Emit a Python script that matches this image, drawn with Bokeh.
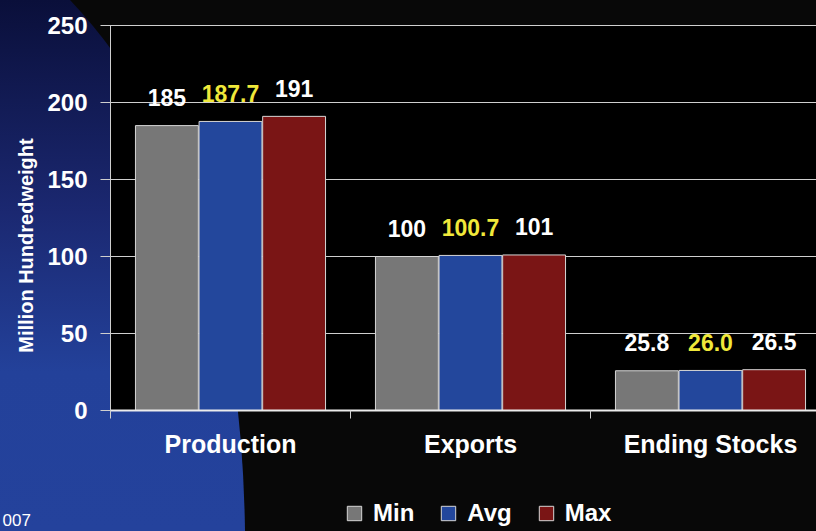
import math
from urllib.parse import quote
from bokeh.plotting import figure
from bokeh.models import (Range1d, FixedTicker, Legend, LegendItem, ColumnDataSource,
                          Label, GlobalInlineStyleSheet)
from bokeh.transform import dodge
from bokeh.core.properties import value
from bokeh.embed import file_html
from bokeh.resources import INLINE

# ---- data ----
categories = ["Production", "Exports", "Ending Stocks"]
series = ["Min", "Avg", "Max"]
min_vals = [185, 100, 25.8]
avg_vals = [187.7, 100.7, 26.0]
max_vals = [191, 101, 26.5]
min_labels = ["185", "100", "25.8"]
avg_labels = ["187.7", "100.7", "26.0"]
max_labels = ["191", "101", "26.5"]
y_ticks = [0, 50, 100, 150, 200, 250]
y_title = "Million Hundredweight"
footer = "007"

FONT = "Liberation Sans"

# ---- page geometry (pixels) ----
W, H = 816, 531
PLOT_L, PLOT_T, PLOT_B = 110, 25, 410      # plot area edges on the page
PX_X = 240.0                                # pixels per category
Y_MAX = 250
PX_Y = (PLOT_B - PLOT_T) / Y_MAX            # pixels per unit

# ---- background (slide template + black plot area) ----
bg_svg = (
    f'<svg xmlns="http://www.w3.org/2000/svg" width="{W}" height="{H}" viewBox="0 0 {W} {H}">'
    '<defs><linearGradient id="g" x1="0" y1="0" x2="0" y2="1">'
    '<stop offset="0" stop-color="#0a0f3a"/><stop offset="0.4" stop-color="#1b2871"/>'
    '<stop offset="0.7" stop-color="#23419a"/><stop offset="1" stop-color="#24429c"/>'
    '</linearGradient></defs>'
    f'<rect width="{W}" height="{H}" fill="#080808"/>'
    '<path d="M0 0 L70 0 Q240 180 245 531 L0 531 Z" fill="url(#g)"/>'
    f'<rect x="{PLOT_L}" y="{PLOT_T}" width="{W - PLOT_L}" height="{PLOT_B - PLOT_T}" fill="#000000"/>'
    '</svg>'
)
css = ('html, body { background: #080808 url("data:image/svg+xml,' + quote(bg_svg) +
       f'") no-repeat 0 0; background-size: {W}px {H}px; overflow: hidden; }}')

centers = [i + 0.5 for i in range(len(categories))]
src = ColumnDataSource(dict(x=centers, mn=min_vals, av=avg_vals, mx=max_vals,
                            mnl=min_labels, avl=avg_labels, mxl=max_labels))

x_end = (W - PLOT_L) / PX_X
p = figure(width=W, height=H, output_backend="svg", toolbar_location=None,
           x_range=Range1d(-PLOT_L / PX_X, x_end),
           y_range=Range1d(-(H - PLOT_B) / PX_Y, PLOT_B / PX_Y),
           min_border=0)
p.stylesheets = [GlobalInlineStyleSheet(css=css)]
p.border_fill_alpha = 0
p.background_fill_alpha = 0
p.outline_line_color = None
p.xgrid.visible = False
p.ygrid.visible = False

off = 0.265
w = 0.262
colors = ["#777777", "#23479c", "#7a1515"]
fields = ["mn", "av", "mx"]
lfields = ["mnl", "avl", "mxl"]
offsets = [-off, 0, off]
text_colors = ["#ffffff", "#f0e83a", "#ffffff"]
renderers = []
for f, lf, c, o, tc in zip(fields, lfields, colors, offsets, text_colors):
    r = p.vbar(x=dodge("x", o, range=p.x_range), top=f, width=w, source=src,
               fill_color=c, line_color="#d6d6d6", line_width=1)
    renderers.append(r)
    p.text(x=dodge("x", o, range=p.x_range), y=f, text=lf, source=src,
           text_align="center", text_baseline="alphabetic", y_offset=-28,
           text_color=tc, text_font=value(FONT), text_font_size="23px",
           text_font_style="bold")

# y axis at x=0; its long inward ticks act as the horizontal gridlines (behind the bars)
yax = p.yaxis[0]
yax.fixed_location = 0
yax.bounds = (0, Y_MAX)
yax.level = "underlay"
yax.ticker = FixedTicker(ticks=y_ticks)
yax.minor_tick_line_color = None
yax.major_tick_in = int(W - PLOT_L)
yax.major_tick_out = 10
yax.major_tick_line_color = "#cfcfcf"
yax.axis_line_color = "#cfcfcf"
yax.axis_line_width = 1
yax.major_label_standoff = 13
yax.major_label_text_font = FONT
yax.major_label_text_font_size = "24px"
yax.major_label_text_font_style = "bold"
yax.major_label_text_color = "#ffffff"

# x axis at y=0: labels at category centres, boundary ticks as minor ticks
xax = p.xaxis[0]
xax.fixed_location = 0
xax.bounds = (0, x_end)
xax.ticker = FixedTicker(ticks=centers, minor_ticks=[0, 1, 2, 3])
xax.major_label_overrides = {c: n for c, n in zip(centers, categories)}
xax.major_tick_in = 0
xax.major_tick_out = 0
xax.minor_tick_in = 0
xax.minor_tick_out = 8
xax.minor_tick_line_color = "#cfcfcf"
xax.axis_line_color = "#ececec"
xax.axis_line_width = 2
xax.major_label_standoff = 11
xax.major_label_text_font = FONT
xax.major_label_text_font_size = "25px"
xax.major_label_text_font_style = "bold"
xax.major_label_text_color = "#ffffff"

# y title (rotated) and footer
p.add_layout(Label(x=(25 - PLOT_L) / PX_X, y=(PLOT_B - 245) / PX_Y, text=y_title,
                   angle=math.pi / 2, text_align="center", text_baseline="middle",
                   text_color="#ffffff", text_font=FONT, text_font_size="20px",
                   text_font_style="bold"))
p.add_layout(Label(x=(2 - PLOT_L) / PX_X, y=(PLOT_B - 519) / PX_Y, text=footer,
                   text_align="left", text_baseline="middle",
                   text_color="#ffffff", text_font=FONT, text_font_size="17px"))

legend = Legend(items=[LegendItem(label=s, renderers=[r]) for s, r in zip(series, renderers)],
                orientation="horizontal", location=(345, 4), padding=0, margin=0,
                spacing=25, label_standoff=10, glyph_width=18, glyph_height=18,
                background_fill_alpha=0, border_line_alpha=0,
                label_text_font=FONT, label_text_font_size="24px",
                label_text_font_style="bold", label_text_color="#ffffff")
p.add_layout(legend, "center")

open("out.html", "w").write(file_html(p, INLINE))
